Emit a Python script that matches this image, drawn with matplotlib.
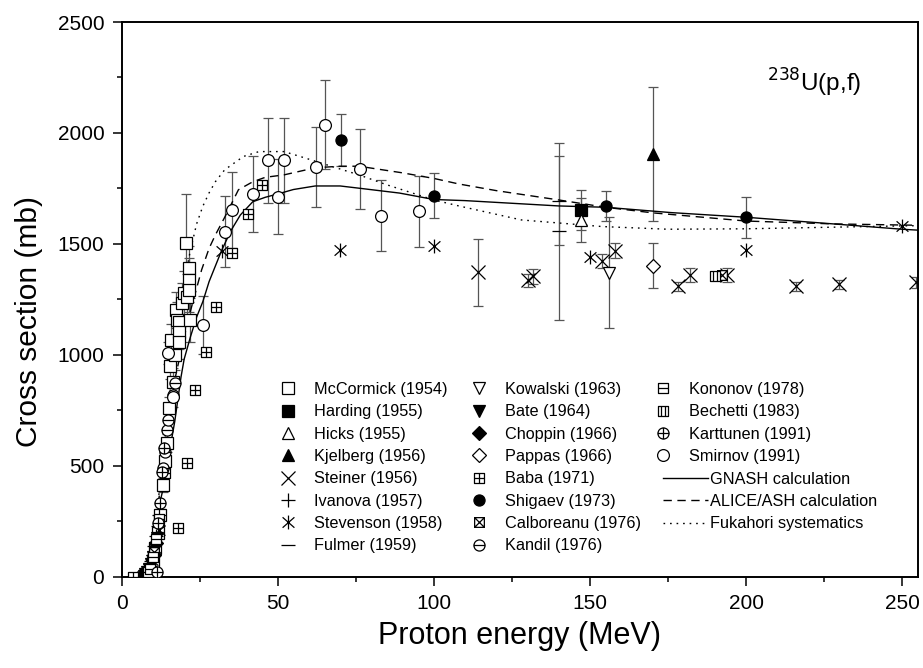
import numpy as np
import matplotlib
matplotlib.use("Agg")
import matplotlib.pyplot as plt
from matplotlib.path import Path

plt.rcParams['font.family'] = ['Liberation Sans', 'DejaVu Sans']

# ---------------- data ----------------
mccormick_E = [10.0, 10.8, 11.7, 12.4, 13.1, 13.8, 14.4, 15.0, 15.5, 15.8, 16.5, 17.0, 17.4, 17.8,
               18.2, 18.5, 18.5, 19.2, 19.8, 20.5, 20.8, 21.4, 21.4, 21.7, 21.9]
mccormick_s = [60, 130, 196, 280, 413, 520, 601, 760, 951, 1067, 879, 1000, 1202, 1157,
               1150, 1105, 1060, 1232, 1280, 1506, 1262, 1390, 1338, 1293, 1157]
mccormick_err = [10, 15, 20, 25, 30, 35, 40, 50, 60, 70, 60, 70, 80, 80,
                 80, 80, 80, 90, 100, 220, 100, 100, 100, 100, 100]

harding_E, harding_s, harding_err = [147.1], [1653], [90]
hicks_E, hicks_s, hicks_err = [147.1], [1608], [100]
kjelberg_E, kjelberg_s, kjelberg_err = [170.1], [1905], [300]

steiner_E = [114.1, 130.0, 131.9, 153.8, 158.1, 178.1, 182.1, 193.9, 216.0, 229.9, 254.3]
steiner_s = [1372, 1335, 1353, 1423, 1470, 1308, 1360, 1360, 1308, 1318, 1327]
steiner_err = [150, 30, 35, 30, 35, 20, 30, 30, 20, 20, 25]

ivanova_E = [6.0, 6.5, 7.0, 7.5, 8.0, 8.5, 9.0, 9.5, 10.0, 10.5, 11.0, 11.5, 12.0]
ivanova_s = [2, 3, 6, 10, 18, 30, 45, 70, 100, 140, 185, 230, 280]

stevenson_E = [6.8, 7.8, 8.8, 9.8, 10.8, 11.8, 32.1, 70.0, 100.1, 150.1, 200.0, 250.0]
stevenson_s = [4, 12, 35, 75, 130, 210, 1470, 1473, 1492, 1443, 1473, 1581]

fulmer_E, fulmer_s, fulmer_err = [140.2, 140.2], [1695, 1556], [200, 400]

kowalski_E, kowalski_s, kowalski_err = [156.2], [1371], [250]
bate_E = [7.0, 7.6, 8.2, 8.8, 9.4, 10.0, 10.6, 11.2]
bate_s = [5, 10, 20, 35, 55, 90, 130, 175]
choppin_E, choppin_s = [7.3, 8.3, 9.2, 10.2, 11.0], [6, 20, 45, 100, 150]
pappas_E, pappas_s, pappas_err = [170.1], [1402], [100]

baba_E = [3.7, 13.9, 18.0, 20.8, 23.5, 27.0, 30.3, 35.3, 40.4, 45.0]
baba_s = [0, 469, 220, 511, 842, 1013, 1215, 1458, 1634, 1765]

shigaev_E = [70.1, 100.0, 155.0, 200.0]
shigaev_s = [1969, 1718, 1671, 1619]
shigaev_err = [118, 103, 67, 92]

calboreanu_E, calboreanu_s = [10.5, 11.8, 192.3], [110, 250, 1360]
kandil_E = [13.3, 13.9, 14.4, 14.9, 16.5, 17.1]
kandil_s = [489, 564, 661, 706, 819, 872]
kononov_E, kononov_s = [8.5, 9.0, 10.0, 11.0, 12.0], [20, 35, 90, 170, 260]
bechetti_E, bechetti_s = [190.2], [1353]
karttunen_E = [11.2, 11.7, 12.2, 12.9, 13.6]
karttunen_s = [23, 240, 330, 470, 580]

smirnov_E = [14.9, 16.5, 26.2, 33.1, 35.3, 42.2, 47.0, 50.0, 52.1, 62.1, 65.2, 76.2, 83.0, 95.1]
smirnov_s = [1007, 811, 1135, 1555, 1653, 1725, 1876, 1713, 1876, 1846, 2037, 1837, 1626, 1646]
smirnov_err = [50, 45, 130, 160, 170, 170, 190, 170, 190, 180, 200, 180, 160, 160]

gnash_E = [7, 8, 9, 10, 11, 12, 13, 14, 15, 16, 17, 18, 19, 20, 22, 24, 26, 28, 30, 32, 35, 38,
           42, 46, 50, 55, 62, 70, 76, 89, 100, 110, 140, 155, 176, 200, 228, 250, 255]
gnash_s = [10, 40, 90, 160, 240, 320, 380, 430, 500, 620, 700, 800, 900, 980, 1080, 1170, 1240,
           1330, 1400, 1470, 1560, 1630, 1690, 1710, 1725, 1745, 1761, 1761, 1751, 1729, 1700,
           1695, 1671, 1665, 1641, 1620, 1590, 1566, 1562]

alice_E = [8, 10, 12, 14, 16, 17, 20, 22.4, 25.6, 28, 30, 33, 37.4, 42, 46, 52, 62, 70, 76, 90,
           100, 108, 120, 140, 155, 170, 200, 228, 250, 255]
alice_s = [20, 150, 360, 560, 780, 887, 1080, 1217, 1383, 1480, 1540, 1620, 1744, 1780, 1800,
           1811, 1843, 1850, 1850, 1820, 1795, 1770, 1740, 1698, 1665, 1640, 1603, 1590, 1585, 1584]

fuka_E = [8, 10, 12, 14, 16, 18, 20, 22, 24, 26, 28, 30, 33, 39, 44, 52, 59, 68, 76, 85, 100,
          108, 128, 154, 175, 200, 250, 255]
fuka_s = [20, 150, 380, 640, 900, 1130, 1330, 1470, 1590, 1670, 1730, 1780, 1834, 1894, 1916,
          1916, 1886, 1846, 1811, 1766, 1698, 1671, 1608, 1578, 1566, 1568, 1581, 1582]

# ---------------- custom markers ----------------
M, L, C = Path.MOVETO, Path.LINETO, Path.CLOSEPOLY
sq = Path([(-1, -1), (1, -1), (1, 1), (-1, 1), (-1, -1)], [M, L, L, L, C])
hl = Path([(-1, 0), (1, 0)], [M, L])
vl = Path([(0, -1), (0, 1)], [M, L])
d1 = Path([(-1, -1), (1, 1)], [M, L])
d2 = Path([(-1, 1), (1, -1)], [M, L])
v1 = Path([(-0.33, -1), (-0.33, 1)], [M, L])
v2 = Path([(0.33, -1), (0.33, 1)], [M, L])
circ = Path.unit_circle()
a1 = Path([(-0.85, -0.75), (0.85, 0.75)], [M, L])
a2 = Path([(-0.85, 0.75), (0.85, -0.75)], [M, L])

m_baba = Path.make_compound_path(sq, hl, vl)
m_calb = Path.make_compound_path(sq, d1, d2)
m_kono = Path.make_compound_path(sq, hl)
m_bech = Path.make_compound_path(sq, v1, v2)
m_kand = Path.make_compound_path(circ, hl)
m_kart = Path.make_compound_path(circ, hl, vl)
m_star = Path.make_compound_path(vl, a1, a2)

# ---------------- figure ----------------
fig = plt.figure(figsize=(9.23, 6.68), dpi=100)
ax = fig.add_axes([121.7 / 923, 1 - 576.7 / 668, 796 / 923, 554.7 / 668])

ecol = '#555555'
ekw = dict(fmt='none', ecolor=ecol, elinewidth=0.9, capsize=3.5, capthick=0.9, zorder=2)
for E, s, e in [(mccormick_E, mccormick_s, mccormick_err), (harding_E, harding_s, harding_err),
                (hicks_E, hicks_s, hicks_err), (kjelberg_E, kjelberg_s, kjelberg_err),
                (steiner_E, steiner_s, steiner_err), (fulmer_E, fulmer_s, fulmer_err),
                (kowalski_E, kowalski_s, kowalski_err), (pappas_E, pappas_s, pappas_err),
                (shigaev_E, shigaev_s, shigaev_err), (smirnov_E, smirnov_s, smirnov_err)]:
    ax.errorbar(E, s, yerr=e, **ekw)

ms = 8
mew = 0.9
op = dict(ls='none', ms=ms, mew=mew, mec='black', zorder=3)
handles = []
def pt(E, s, marker, fill, label, size=ms):
    h, = ax.plot(E, s, marker=marker, mfc=('black' if fill else 'white'), label=label,
                 **{**op, 'ms': size})
    handles.append(h)

pt(mccormick_E, mccormick_s, 's', False, 'McCormick (1954)')
pt(harding_E, harding_s, 's', True, 'Harding (1955)')
pt(hicks_E, hicks_s, '^', False, 'Hicks (1955)')
pt(kjelberg_E, kjelberg_s, '^', True, 'Kjelberg (1956)')
pt(steiner_E, steiner_s, 'x', False, 'Steiner (1956)', 10)
pt(ivanova_E, ivanova_s, '+', False, 'Ivanova (1957)', 10)
pt(stevenson_E, stevenson_s, m_star, False, 'Stevenson (1958)', 10)
pt(fulmer_E, fulmer_s, '_', False, 'Fulmer (1959)', 10)
pt(kowalski_E, kowalski_s, 'v', False, 'Kowalski (1963)')
pt(bate_E, bate_s, 'v', True, 'Bate (1964)')
pt(choppin_E, choppin_s, 'D', True, 'Choppin (1966)', 7)
pt(pappas_E, pappas_s, 'D', False, 'Pappas (1966)', 7)
pt(baba_E, baba_s, m_baba, False, 'Baba (1971)', 7)
pt(shigaev_E, shigaev_s, 'o', True, 'Shigaev (1973)')
pt(calboreanu_E, calboreanu_s, m_calb, False, 'Calboreanu (1976)', 7)
pt(kandil_E, kandil_s, m_kand, False, 'Kandil (1976)')
pt(kononov_E, kononov_s, m_kono, False, 'Kononov (1978)', 7)
pt(bechetti_E, bechetti_s, m_bech, False, 'Bechetti (1983)', 7)
pt(karttunen_E, karttunen_s, m_kart, False, 'Karttunen (1991)')
pt(smirnov_E, smirnov_s, 'o', False, 'Smirnov (1991)', 8.5)

lw = 1.0
l1, = ax.plot(gnash_E, gnash_s, color='black', lw=lw, ls='-', label='GNASH calculation', zorder=2.5)
l2, = ax.plot(alice_E, alice_s, color='black', lw=lw, ls=(0, (6, 4)), label='ALICE/ASH calculation', zorder=2.5)
l3, = ax.plot(fuka_E, fuka_s, color='black', lw=lw, ls=(0, (1.2, 3.5)), label='Fukahori systematics', zorder=2.5)

ax.set_xlim(0, 255)
ax.set_ylim(0, 2500)
ax.set_xticks([0, 50, 100, 150, 200, 250])
ax.set_xticks(np.arange(25, 255, 50), minor=True)
ax.set_yticks(np.arange(0, 2501, 500))
ax.set_yticks(np.arange(250, 2500, 500), minor=True)
ax.tick_params(which='major', direction='out', length=6.5, width=1.1, labelsize=15, pad=6,
               top=False, right=False)
ax.tick_params(which='minor', direction='out', length=3.5, width=1.1, top=False, right=False)
for sp in ax.spines.values():
    sp.set_linewidth(1.4)

ax.set_xlabel('Proton energy (MeV)', fontsize=22, labelpad=6)
ax.set_ylabel('Cross section (mb)', fontsize=21.5)
ax.yaxis.set_label_coords(-0.099, 0.46)
ax.text(222, 2226, r'$^{238}$U(p,f)', fontsize=17.5, ha='center', va='center')

fs = 11.7
lkw = dict(frameon=False, fontsize=fs, loc='upper left', borderpad=0, borderaxespad=0,
           labelspacing=0.45, handletextpad=1.1, handlelength=1.0, markerscale=1.0)
y0 = (576.7 - 382.0) / 554.7
leg1 = ax.legend(handles=handles[0:8], bbox_to_anchor=((279.6 - 121.7) / 796, y0), **lkw)
ax.add_artist(leg1)
leg2 = ax.legend(handles=handles[8:16], bbox_to_anchor=((470.9 - 121.7) / 796, y0), **lkw)
ax.add_artist(leg2)
leg3 = ax.legend(handles=handles[16:20], bbox_to_anchor=((654.9 - 121.7) / 796, y0), **lkw)
ax.add_artist(leg3)
lkw2 = dict(lkw)
lkw2.update(handlelength=2.77, handletextpad=0.15)
y1 = (576.7 - (382.0 + 4 * 22.4)) / 554.7
leg4 = ax.legend(handles=[l1, l2, l3], bbox_to_anchor=((663 - 121.7) / 796, y1), **lkw2)

fig.savefig('out.png', dpi=100)
